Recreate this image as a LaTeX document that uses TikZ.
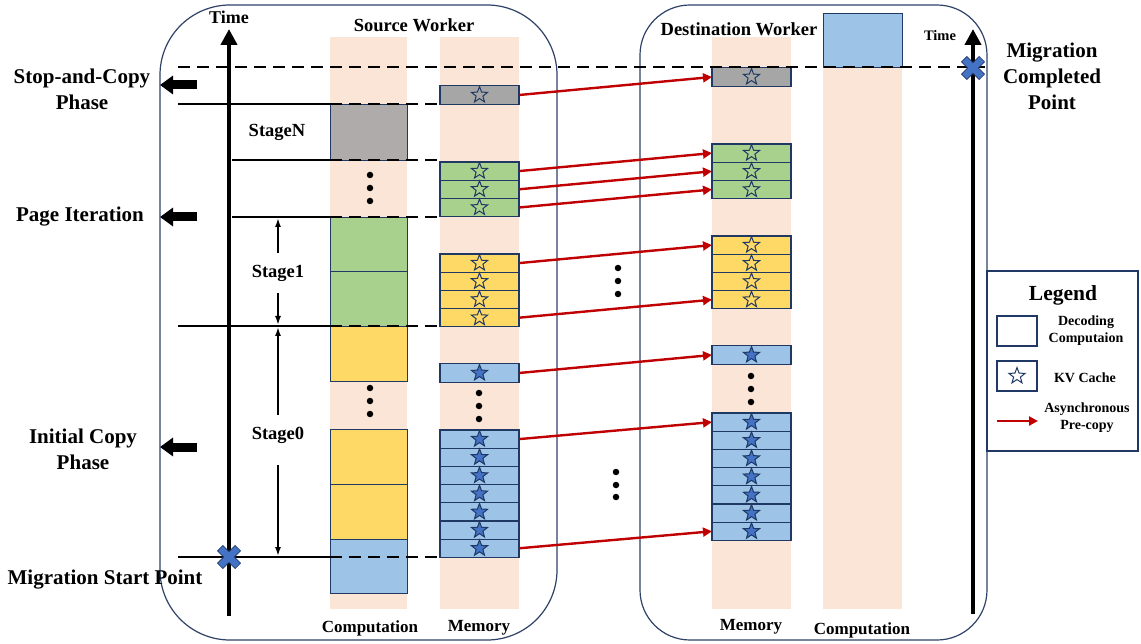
\documentclass[tikz,border=0pt]{standalone}
\usepackage{fontspec}
\setmainfont{Liberation Serif}
\usetikzlibrary{arrows.meta,shapes.geometric}
\definecolor{navy}{HTML}{1F3864}
\definecolor{panel}{HTML}{2F4268}
\definecolor{peach}{HTML}{FBE5D6}
\definecolor{cgray}{HTML}{AFABAB}
\definecolor{mgray}{HTML}{A6A6A6}
\definecolor{cgreen}{HTML}{A9D18E}
\definecolor{cyellow}{HTML}{FFD966}
\definecolor{cblue}{HTML}{9DC3E6}
\definecolor{sblue}{HTML}{4472C4}
\definecolor{cred}{HTML}{C00000}
\newcommand{\fbig}{\bfseries\fontsize{21}{26}\selectfont}
\newcommand{\fmid}{\bfseries\fontsize{18.5}{21}\selectfont}
\newcommand{\fcol}{\bfseries\fontsize{17}{20}\selectfont}
\newcommand{\fsml}{\bfseries\fontsize{14}{17}\selectfont}
\begin{document}
\begin{tikzpicture}[x=1pt,y=-1pt,
  mcell/.style={draw=navy, line width=1.1pt, minimum width=79pt, minimum height=18.2pt, inner sep=0pt, outer sep=0pt},
  hstar/.style={star, star points=5, star point ratio=2.4, minimum size=17pt, inner sep=0pt, draw=navy, line width=1pt},
  fstar/.style={hstar, fill=sblue},
  cblk/.style={draw=navy, line width=0.9pt},
  hline/.style={line width=2.2pt, black},
  dline/.style={line width=2.5pt, black, dash pattern=on 12pt off 7pt},
  redarr/.style={draw=cred, line width=2.4pt, -{Triangle[length=9pt,width=9pt]}},
  stgarr/.style={line width=1.6pt, -{Latex[length=9pt,width=6pt]}},
  phasearr/.style={line width=9pt, -{Triangle[length=13pt,width=18pt]}},
  axisarr/.style={line width=4.5pt, -{Triangle[length=16pt,width=16pt]}},
  dot/.style={circle, fill=black, inner sep=0pt, minimum size=6.5pt},
  xmark/.pic={\filldraw[fill=sblue, draw=navy, line width=0.6pt, rotate=45]
    (-3.8,-12.5) -- (3.8,-12.5) -- (3.8,-3.8) -- (12.5,-3.8) -- (12.5,3.8) -- (3.8,3.8)
    -- (3.8,12.5) -- (-3.8,12.5) -- (-3.8,3.8) -- (-12.5,3.8) -- (-12.5,-3.8) -- (-3.8,-3.8) -- cycle;}
]
\useasboundingbox (0,0) rectangle (1141,644);

% column backgrounds
\fill[peach] (330,37) rectangle (407,609);
\fill[peach] (440,37) rectangle (519,609);
\fill[peach] (712,37) rectangle (791,609);
\fill[peach] (823,67) rectangle (902,609);

% worker panels
\draw[panel, line width=1.2pt, rounded corners=70pt] (160,5) rectangle (557,640);
\draw[panel, line width=1.2pt, rounded corners=50pt] (640,5) rectangle (987,640);

% legend frame
\draw[navy, line width=2.2pt] (987,271) rectangle (1138,451);

% computation blocks of the source worker
\draw[cblk, fill=cgray] (330,104) rectangle (407,160);
\draw[cblk, fill=cgreen] (330,217) rectangle (407,271);
\draw[cblk, fill=cgreen] (330,271) rectangle (407,326);
\draw[cblk, fill=cyellow] (330,326) rectangle (407,381);
\draw[cblk, fill=cyellow] (330,429) rectangle (407,484);
\draw[cblk, fill=cyellow] (330,484) rectangle (407,539);
\draw[cblk, fill=cblue] (330,539) rectangle (407,593);
\node[dot] (cd1) at (370,175) {};
\node[dot] (cd2) at (370,188) {};
\node[dot] (cd3) at (370,201) {};
\node[dot] (cd4) at (370,388) {};
\node[dot] (cd5) at (370,401) {};
\node[dot] (cd6) at (370,414) {};

% computation block of the destination worker
\draw[cblk, fill=cblue] (823,13) rectangle (902,67);

% stage boundaries
\draw[hline] (178,104) -- (330,104);
\draw[hline] (232,160) -- (330,160);
\draw[hline] (232,217) -- (330,217);
\draw[hline] (178,326) -- (330,326);
\draw[hline] (178,557) -- (330,557);
\draw[dline] (330,104) -- (440,104);
\draw[dline] (330,160) -- (440,160);
\draw[dline] (330,217) -- (440,217);
\draw[dline] (330,326) -- (440,326);
\draw[dline] (330,557) -- (440,557);

% source memory cells
\node[mcell, fill=mgray] (s0) at (479.5,95) {};
\node[hstar] at (s0) {};
\foreach \i in {1,2,3} {
  \node[mcell, fill=cgreen] (sg\i) at (479.5,{162+9.1+(\i-1)*18.2}) {};
  \node[hstar] at (sg\i) {};
}
\foreach \i in {1,...,4} {
  \node[mcell, fill=cyellow] (sy\i) at (479.5,{254+9.1+(\i-1)*18.2}) {};
  \node[hstar] at (sy\i) {};
}
\node[mcell, fill=cblue] (sb0) at (479.5,373) {};
\node[fstar] at (sb0) {};
\foreach \i in {1,...,7} {
  \node[mcell, fill=cblue] (sb\i) at (479.5,{430+9.1+(\i-1)*18.2}) {};
  \node[fstar] at (sb\i) {};
}
\node[dot] (md1) at (479,393) {};
\node[dot] (md2) at (479,406) {};
\node[dot] (md3) at (479,419) {};

% destination memory cells
\node[mcell, fill=mgray] (d0) at (751.5,77) {};
\node[hstar] at (d0) {};
\foreach \i in {1,2,3} {
  \node[mcell, fill=cgreen] (dg\i) at (751.5,{144+9.1+(\i-1)*18.2}) {};
  \node[hstar] at (dg\i) {};
}
\foreach \i in {1,...,4} {
  \node[mcell, fill=cyellow] (dy\i) at (751.5,{236+9.1+(\i-1)*18.2}) {};
  \node[hstar] at (dy\i) {};
}
\node[mcell, fill=cblue] (db0) at (751.5,355) {};
\node[fstar] at (db0) {};
\foreach \i in {1,...,7} {
  \node[mcell, fill=cblue] (db\i) at (751.5,{413+9.1+(\i-1)*18.2}) {};
  \node[fstar] at (db\i) {};
}
\node[dot] (dd1) at (751,376) {};
\node[dot] (dd2) at (751,389) {};
\node[dot] (dd3) at (751,402) {};

% migration completed line
\draw[dline] (178,67) -- (985,67);

% asynchronous pre-copy transfers
\draw[redarr] (s0.east) -- (d0.west);
\draw[redarr] (sg1.east) -- (dg1.west);
\draw[redarr] (sg2.east) -- (dg2.west);
\draw[redarr] (sg3.east) -- (dg3.west);
\draw[redarr] (sy1.east) -- (dy1.west);
\draw[redarr] (sy4.east) -- (dy4.west);
\draw[redarr] (sb0.east) -- (db0.west);
\draw[redarr] (sb1.east) -- (db1.west);
\draw[redarr] (sb7.east) -- (db7.west);
\node[dot] (ad1) at (618,268) {};
\node[dot] (ad2) at (618,281) {};
\node[dot] (ad3) at (618,294) {};
\node[dot] (ad4) at (616,472) {};
\node[dot] (ad5) at (616,485) {};
\node[dot] (ad6) at (616,497) {};

% time axes
\coordinate (ta0) at (229,616);
\coordinate (ta1) at (229,29);
\coordinate (tb0) at (973,614);
\coordinate (tb1) at (973,29);
\draw[axisarr] (ta0) -- (ta1);
\draw[axisarr] (tb0) -- (tb1);
\pic at (229,557) {xmark};
\pic at (973,68) {xmark};

% phase indicators
\coordinate (pa0) at (197,85);  \coordinate (pa1) at (160,85);
\coordinate (pb0) at (197,217); \coordinate (pb1) at (160,217);
\coordinate (pc0) at (197,447); \coordinate (pc1) at (160,447);
\draw[phasearr] (pa0) -- (pa1);
\draw[phasearr] (pb0) -- (pb1);
\draw[phasearr] (pc0) -- (pc1);

% stage labels and spans
\node[font=\fmid] (stN) at (277,132) {StageN};
\node[font=\fmid] (st1) at (278,273) {Stage1};
\node[font=\fmid] (st0) at (278,435) {Stage0};
\coordinate (s1a) at (278,253); \coordinate (s1b) at (278,218);
\coordinate (s1c) at (278,293); \coordinate (s1d) at (278,325);
\coordinate (s0a) at (278,415); \coordinate (s0b) at (278,327);
\coordinate (s0c) at (278,465); \coordinate (s0d) at (278,556);
\draw[stgarr] (s1a) -- (s1b);
\draw[stgarr] (s1c) -- (s1d);
\draw[stgarr] (s0a) -- (s0b);
\draw[stgarr] (s0c) -- (s0d);

% titles and axis labels
\node[font=\bfseries\fontsize{18}{20}\selectfont] (timeL) at (229,17) {Time};
\node[font=\bfseries\fontsize{14.5}{17}\selectfont] (timeR) at (940,36) {Time};
\node[font=\fmid] (srcT) at (414,25) {Source Worker};
\node[font=\fmid] (dstT) at (739,29) {Destination Worker};
\node[font=\fcol] (c1) at (370,628) {Computation};
\node[font=\fcol] (m1) at (479,628) {Memory};
\node[font=\fcol] (m2) at (751,627) {Memory};
\node[font=\fcol] (c2) at (862,630) {Computation};

% phase and milestone labels
\node[font=\fbig, align=center] (lsc) at (82,89) {Stop-and-Copy\\Phase};
\node[font=\fbig] (lpi) at (80,217) {Page Iteration};
\node[font=\fbig, align=center] (lic) at (83,449) {Initial Copy\\Phase};
\node[font=\fbig] (lms) at (105,580) {Migration Start Point};
\node[font=\fbig, align=center] (lmc) at (1052,76) {Migration\\Completed\\Point};

% legend
\node[font=\bfseries\fontsize{21.5}{24}\selectfont] (lgT) at (1063,295) {Legend};
\node[draw=navy, line width=1.3pt, minimum width=40pt, minimum height=30pt, inner sep=0pt] (lg1) at (1017,331) {};
\node[draw=navy, line width=1.3pt, minimum width=40pt, minimum height=30pt, inner sep=0pt] (lg2) at (1017,376) {};
\node[hstar] at (lg2) {};
\coordinate (la0) at (997,421);
\coordinate (la1) at (1038,421);
\draw[redarr] (la0) -- (la1);
\node[font=\fsml, align=center] (lgt1) at (1086,331) {Decoding\\Computaion};
\node[font=\fsml] (lgt2) at (1085,378) {KV Cache};
\node[font=\fsml, align=center] (lgt3) at (1087,418) {Asynchronous\\Pre-copy};
\end{tikzpicture}
\end{document}
